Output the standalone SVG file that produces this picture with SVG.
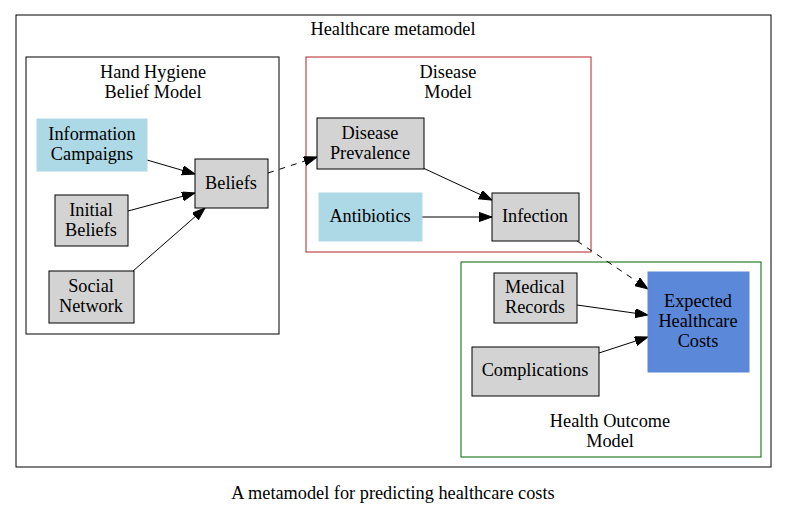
<svg xmlns="http://www.w3.org/2000/svg" width="787" height="515" viewBox="0 0 787 515">
<defs>
<marker id="arr" markerUnits="userSpaceOnUse" markerWidth="14" markerHeight="10" refX="13" refY="4.6" orient="auto">
<path d="M0,0 L13,4.6 L0,9.2 z" fill="#000" stroke="#000" stroke-width="1"/>
</marker>
<style>
text{font-family:'Liberation Serif','Times New Roman','DejaVu Serif',serif;font-size:18.3px;text-anchor:middle;fill:#000}
.n{fill:#d3d3d3;stroke:#000;stroke-width:1}
.lb{fill:#add8e6;stroke:#add8e6}
.e{stroke:#000;stroke-width:1;fill:none;marker-end:url(#arr)}
.d{stroke-dasharray:6,6}
</style>
</defs>
<rect width="787" height="515" fill="#fff"/>
<g id="cluster_outer">
<rect x="16" y="15" width="755" height="452" fill="none" stroke="#000"/>
<text x="393" y="35">Healthcare metamodel</text>
</g>
<g id="cluster_hygiene">
<rect x="26" y="57" width="253" height="277" fill="none" stroke="#000"/>
<text x="153" y="78">Hand Hygiene</text>
<text x="153" y="98">Belief Model</text>
</g>
<g id="cluster_disease">
<rect x="306" y="57" width="285" height="195" fill="none" stroke="#b22222"/>
<text x="448" y="78">Disease</text>
<text x="448" y="98">Model</text>
</g>
<g id="cluster_outcome">
<rect x="461" y="262" width="300" height="195" fill="none" stroke="#006400"/>
<text x="610" y="427">Health Outcome</text>
<text x="610" y="447">Model</text>
</g>
<g id="edges">
<path class="e" d="M147,160 L195,174"/>
<path class="e" d="M128,211 L195,193"/>
<path class="e" d="M133,271 L205,208"/>
<path class="e d" d="M268,173 L317,157"/>
<path class="e" d="M423,168 L492,200"/>
<path class="e" d="M422,217 L492,217"/>
<path class="e d" d="M577,241 L648,289"/>
<path class="e" d="M577,305 L648,315"/>
<path class="e" d="M599,353 L648,337"/>
</g>
<g id="info_campaigns">
<rect class="lb" x="37" y="119" width="110" height="52"/>
<text x="92" y="140">Information</text>
<text x="92" y="160">Campaigns</text>
</g>
<g id="initial_beliefs">
<rect class="n" x="55" y="195" width="73" height="51"/>
<text x="91" y="216">Initial</text>
<text x="91" y="236">Beliefs</text>
</g>
<g id="social_network">
<rect class="n" x="49" y="271" width="85" height="52"/>
<text x="91" y="292">Social</text>
<text x="91" y="312">Network</text>
</g>
<g id="beliefs">
<rect class="n" x="195" y="159" width="73" height="49"/>
<text x="231" y="189">Beliefs</text>
</g>
<g id="disease_prevalence">
<rect class="n" x="317" y="118" width="107" height="51"/>
<text x="370" y="139">Disease</text>
<text x="370" y="159">Prevalence</text>
</g>
<g id="antibiotics">
<rect class="lb" x="319" y="193" width="103" height="48"/>
<text x="370" y="222">Antibiotics</text>
</g>
<g id="infection">
<rect class="n" x="492" y="193" width="87" height="48"/>
<text x="535" y="222">Infection</text>
</g>
<g id="medical_records">
<rect class="n" x="494" y="273" width="83" height="50"/>
<text x="535" y="293">Medical</text>
<text x="535" y="313">Records</text>
</g>
<g id="complications">
<rect class="n" x="472" y="347" width="127" height="49"/>
<text x="535" y="376">Complications</text>
</g>
<g id="expected_costs">
<rect x="648" y="272" width="101" height="100" fill="#5b88d8" stroke="#5b88d8"/>
<text x="698" y="307">Expected</text>
<text x="698" y="327">Healthcare</text>
<text x="698" y="347">Costs</text>
</g>
<text x="393" y="499">A metamodel for predicting healthcare costs</text>
</svg>
